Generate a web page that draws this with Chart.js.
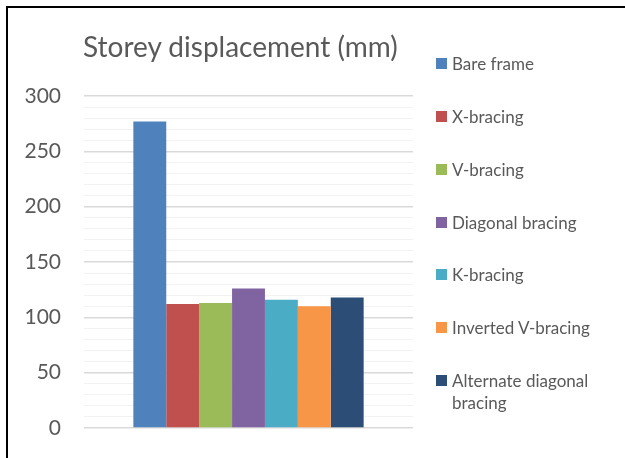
<!DOCTYPE html>
<html>
<head>
<meta charset="utf-8">
<script src="https://cdn.jsdelivr.net/npm/chart.js@4"></script>
<style>
    html, body { margin: 0; padding: 0; background: #fff; }
    #wrap { position: relative; width: 625px; height: 458px; overflow: hidden; font-family: Lato, "Open Sans", sans-serif; color: #595959; }
    #frame-top { position: absolute; left: 6px; top: 6px; width: 619px; height: 2px; background: #000; }
    #frame-left { position: absolute; left: 6px; top: 6px; width: 2px; height: 452px; background: #000; }
    #title { position: absolute; left: 83px; top: 29px; font-size: 28px; line-height: 34px; white-space: nowrap; }
    #legend { position: absolute; left: 436px; top: 0; width: 185px; }
    .legend-item { position: absolute; left: 0; display: flex; align-items: flex-start; font-size: 17px; line-height: 22px; }
    .legend-box { width: 11px; height: 11px; margin-top: 5px; margin-right: 5px; flex: none; }
    canvas { position: absolute; left: 0; top: 0; }
</style>
</head>
<body>
<div id="wrap">
    <canvas id="storey-chart" width="625" height="458" style="width:625px;height:458px"></canvas>
    <div id="frame-top"></div>
    <div id="frame-left"></div>
    <div id="title">Storey displacement (mm)</div>
    <div id="legend"></div>
</div>
<script>
// datos
const categories = [''];
const seriesNames = ['Bare frame', 'X-bracing', 'V-bracing', 'Diagonal bracing', 'K-bracing', 'Inverted V-bracing', 'Alternate diagonal bracing'];
const seriesValues = [277, 112, 113, 126, 116, 110, 118];
const seriesColors = ['#4F81BD', '#C0504D', '#9BBB59', '#8064A2', '#4BACC6', '#F79646', '#2C4D75'];
const yTicks = [0, 50, 100, 150, 200, 250, 300];

document.addEventListener('DOMContentLoaded', () => {
    const ctx = document.getElementById('storey-chart');
    const legendEl = document.getElementById('legend');

    const datasets = seriesNames.map((name, i) => ({
        label: name,
        data: [seriesValues[i]],
        backgroundColor: seriesColors[i],
        borderWidth: 0,
        categoryPercentage: 0.7,
        barPercentage: 1
    }));

    const chart = new Chart(ctx, {
        type: 'bar',
        data: { labels: categories, datasets },
        options: {
            responsive: false,
            maintainAspectRatio: false,
            animation: false,
            layout: { padding: { top: 96, right: 212, bottom: 30, left: 0 } },
            plugins: { legend: { display: false }, title: { display: false }, tooltip: { enabled: false } },
            scales: {
                x: { display: false },
                y: {
                    min: 0,
                    max: 300,
                    afterFit: (scale) => { scale.width = 84; },
                    ticks: {
                        stepSize: 10,
                        autoSkip: false,
                        padding: 0,
                        color: '#595959',
                        font: { family: 'Lato', size: 21 },
                        callback: (v) => yTicks.includes(v) ? String(v) : ''
                    },
                    border: { display: false },
                    grid: {
                        drawTicks: true,
                        tickLength: 23,
                        tickColor: 'rgba(0,0,0,0)',
                        color: (c) => (c.tick && c.tick.value % 50 === 0) ? '#D9D9D9' : '#F2F2F2',
                        lineWidth: (c) => (c.tick && c.tick.value % 50 === 0) ? 1.5 : 1
                    }
                }
            }
        }
    });

    // leyenda en HTML, construida a partir de los datasets del gráfico
    const itemTops = [53, 106, 159, 212, 264, 317, 370];
    chart.data.datasets.forEach((ds, i) => {
        const item = document.createElement('div');
        item.className = 'legend-item';
        item.style.top = itemTops[i] + 'px';
        const box = document.createElement('span');
        box.className = 'legend-box';
        box.style.background = ds.backgroundColor;
        const txt = document.createElement('span');
        txt.textContent = ds.label;
        if (i === seriesNames.length - 1) txt.style.width = '150px';
        item.appendChild(box);
        item.appendChild(txt);
        legendEl.appendChild(item);
    });
});
</script>
</body>
</html>
